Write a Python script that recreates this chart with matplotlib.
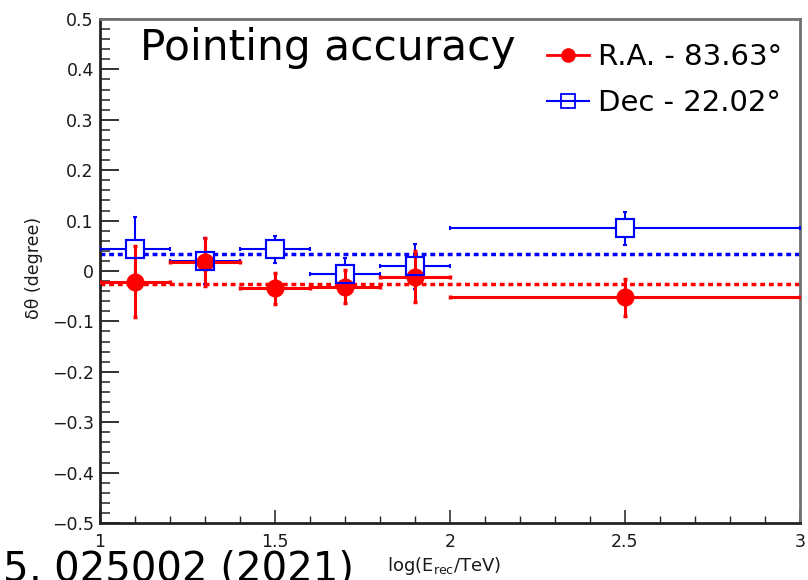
#!/usr/bin/env python3
"""Pointing accuracy: offset of reconstructed R.A./Dec per energy bin."""

import matplotlib
matplotlib.use("Agg")
import matplotlib.pyplot as plt
from matplotlib.lines import Line2D
from matplotlib.ticker import MultipleLocator


# energy bins, log10(E_rec / TeV)
bin_centers = [1.1, 1.3, 1.5, 1.7, 1.9, 2.5]
bin_half_widths = [0.1, 0.1, 0.1, 0.1, 0.1, 0.5]

# offsets in degree
ra_offset = [-0.021, 0.018, -0.034, -0.031, -0.011, -0.052]
ra_error = [0.070, 0.047, 0.031, 0.033, 0.050, 0.037]
dec_offset = [0.043, 0.020, 0.043, -0.005, 0.009, 0.085]
dec_error = [0.064, 0.045, 0.027, 0.031, 0.044, 0.033]

ra_mean = -0.025
dec_mean = 0.034

series_labels = ["R.A. - 83.63°", "Dec - 22.02°"]
xtick_values = [1, 1.5, 2, 2.5, 3]
xtick_labels = ["1", "1.5", "2", "2.5", "3"]
ytick_values = [0.5, 0.4, 0.3, 0.2, 0.1, 0, -0.1, -0.2, -0.3, -0.4, -0.5]
ytick_labels = ["0.5", "0.4", "0.3", "0.2", "0.1", "0",
                "\u22120.1", "\u22120.2", "\u22120.3", "\u22120.4", "\u22120.5"]


def main() -> None:
    plt.rcParams.update({
        "font.family": "DejaVu Sans",
        "mathtext.fontset": "dejavusans",
    })
    red = "#ff0000"
    blue = "#0000ff"
    ink = "#1a1a1a"

    fig = plt.figure(figsize=(8.08, 5.80), dpi=100)
    ax = fig.add_axes([100 / 808, 57 / 580, 700 / 808, 504 / 580])

    # blue boxes first (white inside), red on top, then blue outlines again
    ax.errorbar(bin_centers, dec_offset, xerr=bin_half_widths, yerr=dec_error,
                fmt="s", color=blue, ms=12.5, mfc="white", mec=blue, mew=1.5,
                elinewidth=1.5, capsize=1.2, capthick=2.0, zorder=3)
    ax.errorbar(bin_centers, ra_offset, xerr=bin_half_widths, yerr=ra_error,
                fmt="o", color=red, ms=12, elinewidth=2.2, capsize=1.2,
                capthick=2.5, zorder=4)
    ax.plot(bin_centers, dec_offset, "s", ms=12.5, mfc="none", mec=blue,
            mew=1.5, zorder=5)

    ax.axhline(dec_mean, color=blue, lw=2.5, ls=(0, (1.4, 1.1)), zorder=2)
    ax.axhline(ra_mean, color=red, lw=2.5, ls=(0, (1.4, 1.1)), zorder=2)

    ax.set_xlim(1, 3)
    ax.set_ylim(-0.5, 0.5)
    ax.set_xticks(xtick_values, labels=xtick_labels)
    ax.set_yticks(ytick_values, labels=ytick_labels)
    ax.xaxis.set_minor_locator(MultipleLocator(0.1))
    ax.yaxis.set_minor_locator(MultipleLocator(0.02))
    ax.tick_params(axis="both", which="both", direction="in", top=False,
                   right=False, colors="#222222", labelcolor=ink)
    ax.tick_params(axis="y", which="major", length=14, width=1.3,
                   labelsize=12.5, pad=4.5)
    ax.tick_params(axis="y", which="minor", length=7, width=1.1)
    ax.tick_params(axis="x", which="major", length=9.5, width=1.1,
                   labelsize=12.5, pad=7)
    ax.tick_params(axis="x", which="minor", length=4.8, width=1.0)

    for side in ("left", "bottom"):
        ax.spines[side].set_color("#222222")
        ax.spines[side].set_linewidth(2.0)
    for side in ("top", "right"):
        ax.spines[side].set_color("#707070")
        ax.spines[side].set_linewidth(2.0)

    ax.set_ylabel("\u03b4\u03b8 (degree)", fontsize=12.5, color=ink)
    ax.yaxis.set_label_coords(-0.081, 0.506)
    ax.set_xlabel(r"log(E$_{\mathrm{rec}}$/TeV)", fontsize=13, color=ink)
    ax.xaxis.set_label_coords(0.491, -0.063)

    handles = [
        Line2D([], [], color=red, marker="o", ms=9.5, lw=2.0),
        Line2D([], [], color=blue, marker="s", ms=10, mfc="none", mew=1.3, lw=1.5),
    ]
    ax.legend(handles, series_labels, loc="upper left",
              bbox_to_anchor=(0.638, 0.952), frameon=False, fontsize=21,
              handlelength=1.45, handletextpad=0.3, labelspacing=0.62,
              borderpad=0, borderaxespad=0)

    fig.text(140 / 808, 1 - 60 / 580, "Pointing accuracy", fontsize=30.5,
             color="black", ha="left", va="baseline")
    fig.text(354 / 808, 0.0, "5, 025002 (2021)", fontsize=29,
             color="black", ha="right", va="baseline")

    fig.savefig("out.png", dpi=100)
    plt.close(fig)


if __name__ == "__main__":
    main()
